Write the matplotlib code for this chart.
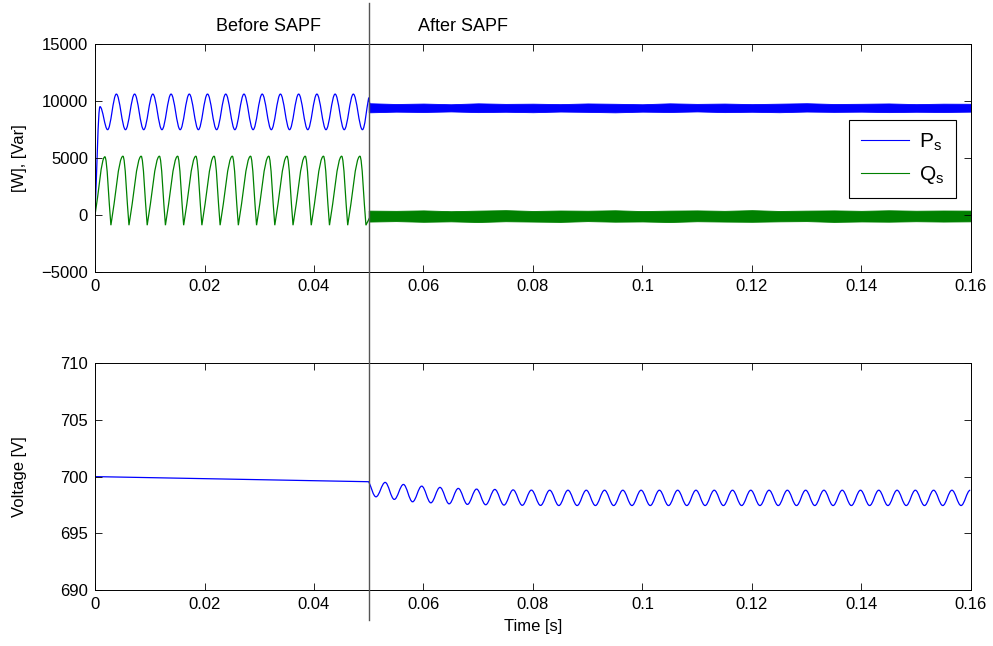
import numpy as np
import matplotlib
matplotlib.use("Agg")
import matplotlib.pyplot as plt
from matplotlib.path import Path
from matplotlib.patches import PathPatch
from matplotlib.lines import Line2D
from matplotlib.ticker import FuncFormatter
import matplotlib.transforms as mtransforms

plt.rcParams['font.family'] = ['Liberation Sans', 'DejaVu Sans']
plt.rcParams['font.size'] = 12

# ---- data ----
T_SAPF = 0.05          # switching instant [s]
PERIOD = 0.00333       # ripple period (300 Hz)

# Ps before SAPF: start, first peak, first trough, then regular peaks/troughs
p_start = (0.0, 200)
p_first = [(0.0009, 9500), (0.0023, 7480)]
p_t0 = 0.0039
p_peaks = [10600, 10600, 10600, 10600, 10600, 10600, 10600,
           10600, 10600, 10600, 10600, 10600, 10600, 10600]
p_troughs = [7480, 7480, 7480, 7480, 7480, 7480, 7480,
             7480, 7480, 7480, 7480, 7480, 7480, 7480]
p_spike = 10300

# Qs before SAPF
q_start = (0.0, 0)
q_first = [(0.0018, 5100), (0.0029, -900)]
q_t0 = 0.0051
q_fall = 0.0011
q_peaks = [5150, 5150, 5150, 5150, 5150, 5150, 5150,
           5150, 5150, 5150, 5150, 5150, 5150, 5150]
q_troughs = [-900, -900, -900, -900, -900, -900, -900,
             -900, -900, -900, -900, -900, -900, -900]

# noisy band after SAPF (envelope every 5 ms from 0.05 to 0.16)
band_t = np.linspace(0.05, 0.16, 23)
p_hi = [9800, 9730, 9770, 9710, 9790, 9740, 9760, 9720, 9780, 9750, 9710, 9790,
        9740, 9770, 9720, 9760, 9800, 9730, 9750, 9780, 9720, 9760, 9750]
p_lo = [9000, 9060, 9030, 9080, 9020, 9050, 9010, 9070, 9040, 9000, 9060, 9030,
        9080, 9020, 9050, 9010, 9070, 9040, 9060, 9020, 9050, 9030, 9060]
q_hi = [380, 360, 400, 330, 380, 420, 350, 390, 370, 410, 340, 380,
        400, 360, 420, 350, 380, 400, 360, 410, 370, 390, 380]
q_lo = [-580, -540, -600, -560, -620, -550, -580, -610, -540, -590, -570, -620,
        -550, -580, -600, -560, -540, -610, -570, -590, -550, -580, -560]

# DC voltage
v_start = 700.0
v_switch = 699.55
v_t0 = 0.0530
v_period = 0.00334
v_peaks = [699.49, 699.31, 699.16, 699.05, 698.96, 698.90, 698.87, 698.83,
           698.81, 698.80, 698.80, 698.80, 698.80, 698.80, 698.80, 698.80,
           698.80, 698.80, 698.80, 698.80, 698.80, 698.80, 698.80, 698.80,
           698.80, 698.80, 698.80, 698.80, 698.80, 698.80, 698.80, 698.80,
           698.80]
v_troughs = [698.22, 697.99, 697.78, 697.69, 697.60, 697.55, 697.52, 697.49,
             697.47, 697.46, 697.45, 697.45, 697.45, 697.45, 697.45, 697.45,
             697.45, 697.45, 697.45, 697.45, 697.45, 697.45, 697.45, 697.45,
             697.45, 697.45, 697.45, 697.45, 697.45, 697.45, 697.45, 697.45,
             697.45]

BLUE = '#0000ff'
GREEN = '#008000'


def wave_path(pts, sharp, h=0.363):
    """Smooth curve through extrema (horizontal tangents unless sharp)."""
    verts = [pts[0]]
    codes = [Path.MOVETO]
    for i in range(len(pts) - 1):
        (t0, v0), (t1, v1) = pts[i], pts[i + 1]
        dt, dv = t1 - t0, v1 - v0
        c1 = (t0 + h * dt, v0 + h * dv) if sharp[i] else (t0 + h * dt, v0)
        c2 = (t1 - h * dt, v1 - h * dv) if sharp[i + 1] else (t1 - h * dt, v1)
        verts += [c1, c2, (t1, v1)]
        codes += [Path.CURVE4] * 3
    return Path(verts, codes)


def draw(ax, path, color):
    ax.add_patch(PathPatch(path, facecolor='none', edgecolor=color, lw=0.9))


# build Ps extrema
p_pts = [p_start] + p_first
p_sharp = [True, False, False]
for k in range(len(p_peaks)):
    p_pts += [(p_t0 + k * PERIOD, p_peaks[k]),
              (p_t0 + k * PERIOD + PERIOD / 2, p_troughs[k])]
    p_sharp += [False, False]
p_pts.append((T_SAPF, p_spike))
p_sharp.append(True)
p_pts.append((band_t[0] + 0.0003, (p_hi[0] + p_lo[0]) / 2))
p_sharp.append(True)

# build Qs extrema
q_pts = [q_start] + q_first
q_sharp = [True, False, True]
for k in range(len(q_peaks)):
    q_pts += [(q_t0 + k * PERIOD, q_peaks[k]),
              (q_t0 + k * PERIOD + q_fall, q_troughs[k])]
    q_sharp += [False, True]
q_pts.append((band_t[0] + 0.0003, (q_hi[0] + q_lo[0]) / 2))
q_sharp.append(True)

# build voltage extrema
v_pts = [(0.0, v_start), (T_SAPF, v_switch)]
v_sharp = [True, True]
for k in range(len(v_peaks)):
    v_pts += [(v_t0 + k * v_period - v_period / 2, v_troughs[k]),
              (v_t0 + k * v_period, v_peaks[k])]
    v_sharp += [False, False]

fig = plt.figure(figsize=(9.93, 6.46), dpi=100)
ax1 = fig.add_axes([0.0957, 0.579, 0.882, 0.353])
ax2 = fig.add_axes([0.0957, 0.0867, 0.882, 0.351])

draw(ax1, wave_path(p_pts, p_sharp), BLUE)
draw(ax1, wave_path(q_pts, q_sharp), GREEN)
ax1.fill_between(band_t, p_lo, p_hi, color=BLUE, lw=0.6)
ax1.fill_between(band_t, q_lo, q_hi, color=GREEN, lw=0.6)
draw(ax2, wave_path(v_pts, v_sharp), BLUE)

h1, = ax1.plot([], [], color=BLUE, lw=0.8, label='P$_\\mathregular{s}$')
h2, = ax1.plot([], [], color=GREEN, lw=0.8, label='Q$_\\mathregular{s}$')
leg = ax1.legend(handles=[h1, h2], loc='upper right',
                 bbox_to_anchor=(0.983, 0.667), borderaxespad=0,
                 fontsize=15, handlelength=2.3, handletextpad=0.5,
                 fancybox=False, framealpha=1, edgecolor='black',
                 borderpad=0.55, labelspacing=0.55)
leg.get_frame().set_linewidth(0.8)

fmt = FuncFormatter(lambda x, pos: '%g' % x)
for ax in (ax1, ax2):
    ax.set_xlim(0, 0.16)
    ax.set_xticks(np.arange(0, 0.161, 0.02))
    ax.xaxis.set_major_formatter(fmt)
    ax.tick_params(direction='in', top=True, right=True, length=5,
                   width=0.6, pad=5, labelsize=12)
    for s in ax.spines.values():
        s.set_linewidth(0.7)

ax1.set_ylim(-5000, 15000)
ax1.set_yticks([-5000, 0, 5000, 10000, 15000])
ax1.set_ylabel('[W], [Var]', fontsize=12)
ax1.yaxis.set_label_coords(-0.078, 0.5)

ax2.set_ylim(690, 710)
ax2.set_yticks([690, 695, 700, 705, 710])
ax2.set_ylabel('Voltage [V]', fontsize=12)
ax2.yaxis.set_label_coords(-0.078, 0.5)
ax2.set_xlabel('Time [s]', fontsize=12, labelpad=5)

# separator line across both panels and the labels above
trans = mtransforms.blended_transform_factory(ax1.transData, fig.transFigure)
fig.add_artist(Line2D([T_SAPF, T_SAPF], [1 - 3 / 646, 1 - 620 / 646],
                      transform=trans, color='#555555', lw=1.0))
ttrans = mtransforms.blended_transform_factory(ax1.transData, ax1.transAxes)
ax1.text(0.0316, 1.075, 'Before SAPF', transform=ttrans, ha='center',
         va='center', fontsize=13)
ax1.text(0.0672, 1.075, 'After SAPF', transform=ttrans, ha='center',
         va='center', fontsize=13)

fig.savefig('out.png', dpi=100)
